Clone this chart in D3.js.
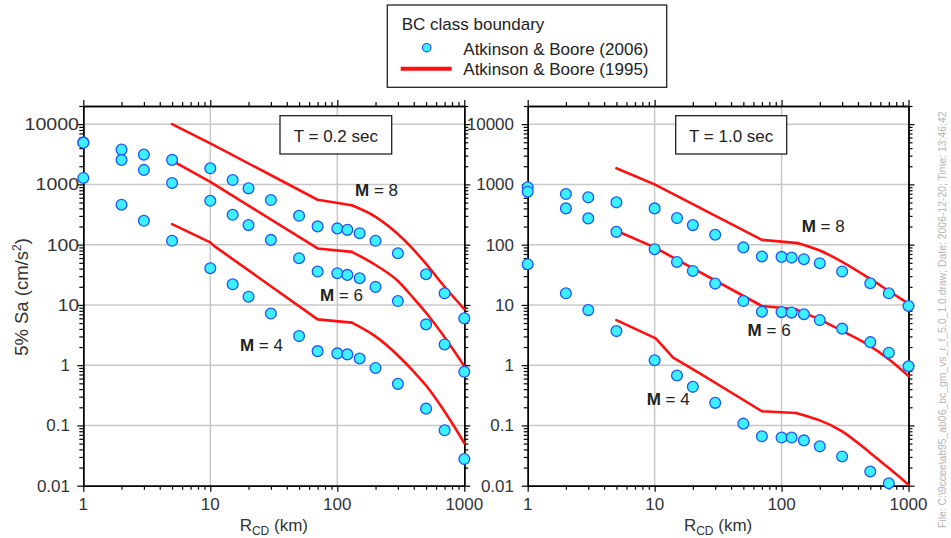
<!DOCTYPE html>
<html><head><meta charset="utf-8">
<script src="https://cdn.jsdelivr.net/npm/d3@7"></script>
<style>
body{margin:0;background:#fff;}
svg{display:block;font-family:"Liberation Sans",Arial,Helvetica,sans-serif;}
</style>
</head><body>
<svg id="c" width="951" height="538"></svg>
<script>
// ---------- data ----------
const distances = [1,2,3,5,10,15,20,30,50,70,100,120,150,200,300,500,700,1000];

// Atkinson & Boore (2006), T = 0.2 s
const ab06_T02_M8 = [5000,3780,3120,2550,1850,1180,860,550,301,201,186,176,155,116,72,32.3,15.6,6.0];
const ab06_T02_M6 = [4900,2550,1740,1055,535,313,211,120,59.6,35.8,33.6,31.5,27.7,19.9,11.6,4.75,2.21,0.776];
const ab06_T02_M4 = [1280,460,249,116,40.6,22,13.7,7.2,3.04,1.71,1.57,1.51,1.29,0.90,0.49,0.19,0.083,0.0277];
// Atkinson & Boore (2006), T = 1.0 s
const ab06_T10_M8 = [895,692,610,504,400,276,211,146,90,63.6,62.7,61,57.4,49.2,35.8,22.9,15.6,9.6];
const ab06_T10_M6 = [757,400,273,163,84,51.7,36.6,22.6,11.6,7.7,7.6,7.45,7.0,5.6,4.04,2.41,1.61,0.96];
const ab06_T10_M4 = [47.4,15.6,8.2,3.68,1.21,0.674,0.437,0.237,0.107,0.066,0.063,0.063,0.0565,0.045,0.0306,0.0172,0.011,null];

// Atkinson & Boore (1995), T = 0.2 s
const ab95_T02_M8_r = [5,10,70,130,200,300,400,500,700,1000];
const ab95_T02_M8   = [10000,4800,556,450,290,150,82,48,20,8.5];
const ab95_T02_M6_r = [5,10,70,130,200,300,400,500,700,1000];
const ab95_T02_M6   = [2480,1100,86.5,76,46,25,12.8,7.4,2.9,0.96];
const ab95_T02_M4_r = [5,10,10.7,70,130,200,300,400,500,700,1000];
const ab95_T02_M4   = [219,109,95.5,5.75,5.08,3.0,1.45,0.78,0.46,0.17,0.051];
// Atkinson & Boore (1995), T = 1.0 s
const ab95_T10_M8_r = [5,10,70,135,200,300,500,700,1000];
const ab95_T10_M8   = [1850,1000,120,106,80,52,27,17,10.5];
const ab95_T10_M6_r = [5,10,70,130,200,300,500,700,1000];
const ab95_T10_M6   = [170,90,9.6,8.45,5.7,3.7,2.07,1.25,0.66];
const ab95_T10_M4_r = [5,10.2,11.3,14,22.7,70,130,300,500,700,1000];
const ab95_T10_M4   = [5.6,2.78,2.2,1.33,0.73,0.172,0.161,0.080,0.035,0.0196,0.0104];
const kneeDist = [130,130,130,135,130,130];

const xMajor = [1,10,100,1000];
const yMajor = [0.01,0.1,1,10,100,1000,10000];
const periodLabels = ["T = 0.2 sec","T = 1.0 sec"];
const magLabels = ["8","6","4"];
const legendTitle = "BC class boundary";
const legendNames = ["Atkinson & Boore (2006)","Atkinson & Boore (1995)"];
const sideNote = "File: C:\\9ccee\\ab95_ab06_bc_gm_vs_r_f_5.0_1.0.draw; Date: 2006-12-20; Time: 13:46:42";

// ---------- helpers ----------
function minorOf(lo, hi){
  const out=[];
  for(let d=lo; d<hi*0.999; d*=10){ for(let k=2;k<=9;k++){ const v=d*k; if(v<=hi*1.0001) out.push(+v.toPrecision(3)); } }
  return out;
}
const xMinor = minorOf(1,1000);
const yMinor = minorOf(0.01,20000);
const fmt = v => v>=1 ? d3.format("d")(v) : String(v);

const svg = d3.select("#c");
const TOP=106, BOT=485.7;

const panels = [
  { x0:83.3, x1:464.3, label:periodLabels[0], box:[196.7,111.7],
    pts:[ab06_T02_M8,ab06_T02_M6,ab06_T02_M4],
    lines:[[ab95_T02_M8_r,ab95_T02_M8],[ab95_T02_M6_r,ab95_T02_M6],[ab95_T02_M4_r,ab95_T02_M4]],
    knees:kneeDist.slice(0,3),
    mpos:[[138,650],[73,11.6],[17.1,1.71]], wide:true },
  { x0:527.7, x1:908.5, label:periodLabels[1], box:[148,111],
    pts:[ab06_T10_M8,ab06_T10_M6,ab06_T10_M4],
    lines:[[ab95_T10_M8_r,ab95_T10_M8],[ab95_T10_M6_r,ab95_T10_M6],[ab95_T10_M4_r,ab95_T10_M4]],
    knees:kneeDist.slice(3),
    mpos:[[144,160],[54,3.04],[8.65,0.222]], wide:false }
];

panels.forEach(p => {
  const x = d3.scaleLog().domain([1,1000]).range([p.x0,p.x1]);
  const y = d3.scaleLog().domain([0.01,20000]).range([BOT,TOP]);
  const g = svg.append("g");

  // grid
  g.selectAll(".vg").data(xMajor.slice(1,-1)).enter().append("line")
    .attr("x1",d=>x(d)).attr("x2",d=>x(d)).attr("y1",TOP).attr("y2",BOT)
    .attr("stroke","#c8c8c8").attr("stroke-width",1.5);
  g.selectAll(".hg").data(yMajor.slice(1)).enter().append("line")
    .attr("x1",p.x0).attr("x2",p.x1).attr("y1",d=>y(d)).attr("y2",d=>y(d))
    .attr("stroke","#c8c8c8").attr("stroke-width",1.5);

  // axes: ticks (outward on all sides)
  const axes = [
    [d3.axisBottom(x), `translate(0,${BOT})`, xMajor, xMinor],
    [d3.axisTop(x), `translate(0,${TOP})`, xMajor, xMinor],
    [d3.axisLeft(y), `translate(${p.x0},0)`, yMajor, yMinor],
    [d3.axisRight(y), `translate(${p.x1},0)`, yMajor, yMinor]
  ];
  axes.forEach(([ax,tr,maj,min]) => {
    const a1 = g.append("g").attr("transform",tr)
      .call(ax.tickValues(min).tickSize(4).tickSizeOuter(0).tickFormat(""));
    const a2 = g.append("g").attr("transform",tr)
      .call(ax.tickValues(maj).tickSize(6).tickSizeOuter(0).tickFormat(""));
    [a1,a2].forEach(a=>{
      a.selectAll("line").attr("stroke","#000").attr("stroke-width",1.2);
      a.select(".domain").attr("stroke","#000").attr("stroke-width",1.4);
    });
  });

  // tick labels
  g.selectAll(".xl").data(xMajor).enter().append("text")
    .attr("x",d=>x(d)).attr("y",510).attr("text-anchor","middle")
    .attr("font-size",17).attr("fill","#333").text(fmt);
  const yl = g.selectAll(".yl").data(yMajor).enter().append("text")
    .attr("x",d=> p.wide ? (d>=10 ? 79 : 70) : 514)
    .attr("y",d=>y(d)+6).attr("text-anchor","end")
    .attr("font-size",17).attr("fill","#333").text(fmt);
  if (p.wide) {
    yl.filter(d=>d>=10)
      .attr("textLength",d=>fmt(d).length*11.1 - 1)
      .attr("lengthAdjust","spacingAndGlyphs");
  }

  // x title
  const xt = g.append("text").attr("x",(p.x0+p.x1)/2).attr("y",531)
    .attr("text-anchor","middle").attr("font-size",17).attr("fill","#333");
  xt.append("tspan").text("R");
  xt.append("tspan").attr("font-size",12).attr("dy",4).text("CD");
  xt.append("tspan").attr("dy",-4).text(" (km)");

  // AB95 lines: straight segments up to the knee, smooth tail beyond
  const headLine = d3.line().x(d=>x(d[0])).y(d=>y(d[1]));
  const tailLine = d3.line().x(d=>x(d[0])).y(d=>y(d[1])).curve(d3.curveMonotoneX);
  p.lines.forEach(([rs,vs],i) => {
    const pts = rs.map((r,j)=>[r,vs[j]]);
    const k = p.knees[i];
    [[pts.filter(d=>d[0]<=k), headLine],[pts.filter(d=>d[0]>=k), tailLine]].forEach(([seg,gen])=>{
      g.append("path").datum(seg)
        .attr("d",gen).attr("fill","none").attr("stroke","#ff1010")
        .attr("stroke-width",2.6).attr("stroke-linejoin","round").attr("stroke-linecap","round");
    });
  });

  // AB06 points
  p.pts.forEach(vals => {
    g.selectAll(null).data(distances.map((r,i)=>[r,vals[i]]).filter(d=>d[1]!=null))
      .enter().append("circle")
      .attr("cx",d=>x(d[0])).attr("cy",d=>y(d[1])).attr("r",5.4)
      .attr("fill","#3cf0ff").attr("stroke","#1f55ff").attr("stroke-width",1.3);
  });

  // period box
  g.append("rect").attr("x",p.x0+p.box[0]).attr("y",115.7).attr("width",p.box[1]).attr("height",38.3)
    .attr("fill","#fff").attr("stroke","#222").attr("stroke-width",1.3);
  g.append("text").attr("x",p.x0+p.box[0]+p.box[1]/2).attr("y",141.5).attr("text-anchor","middle")
    .attr("font-size",17).attr("fill","#222").text(p.label);

  // magnitude labels
  p.mpos.forEach((m,i) => {
    const t = g.append("text").attr("x",x(m[0])).attr("y",y(m[1])).attr("font-size",17).attr("fill","#222");
    t.append("tspan").attr("font-weight","bold").text("M");
    t.append("tspan").text(" = " + magLabels[i]);
  });
});

// y-axis title
const yt = svg.append("text").attr("transform","translate(28,297) rotate(-90)")
  .attr("text-anchor","middle").attr("font-size",18.5).attr("fill","#333");
yt.append("tspan").text("5% Sa (cm/s");
yt.append("tspan").attr("font-size",12).attr("dy",-7).text("2");
yt.append("tspan").attr("dy",7).text(")");

// legend
const lg = svg.append("g");
lg.append("rect").attr("x",387.3).attr("y",5).attr("width",279.4).attr("height",82.3)
  .attr("fill","#fff").attr("stroke","#222").attr("stroke-width",1.3);
lg.append("text").attr("x",401.7).attr("y",30).attr("font-size",17).attr("fill","#222").text(legendTitle);
lg.append("circle").attr("cx",426.7).attr("cy",47.7).attr("r",4.2)
  .attr("fill","#3cf0ff").attr("stroke","#1f55ff").attr("stroke-width",1.2);
lg.append("line").attr("x1",400.7).attr("x2",451.7).attr("y1",68.7).attr("y2",68.7)
  .attr("stroke","#ff1010").attr("stroke-width",4);
legendNames.forEach((n,i)=>{
  lg.append("text").attr("x",463.3).attr("y",55+i*20).attr("font-size",17).attr("fill","#222").text(n);
});

// side note
svg.append("text").attr("transform","translate(946,528) rotate(-90)")
  .attr("font-size",10.4).attr("fill","#b4b4b4").text(sideNote);
</script>
</body></html>
